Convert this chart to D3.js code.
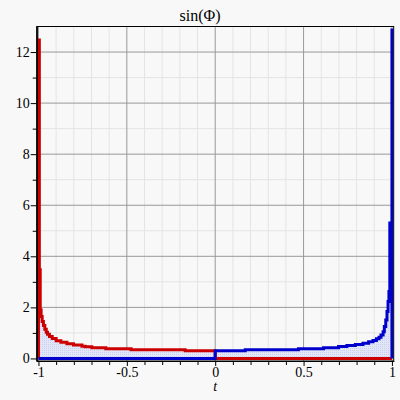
<!DOCTYPE html>
<html><head><meta charset="utf-8">
<script src="https://cdn.jsdelivr.net/npm/d3@7"></script>
<style>
html,body{margin:0;padding:0;background:#f8f8f8;}
svg{display:block;}
</style></head>
<body>
<svg id="c" width="400" height="400"></svg>
<script>
// ---- data ----
const titleText = "sin(\u03A6)";
const xLabel = "t";
const xMajorTicks = [-1, -0.5, 0, 0.5, 1];
const xTickLabels = ["-1", "-0.5", "0", "0.5", "1"];
const xMinorTicks = [-0.9,-0.8,-0.7,-0.6,-0.4,-0.3,-0.2,-0.1,0.1,0.2,0.3,0.4,0.6,0.7,0.8,0.9];
const yMajorTicks = [0, 2, 4, 6, 8, 10, 12];
const yTickLabels = ["0", "2", "4", "6", "8", "10", "12"];
const yMinorTicks = [1, 3, 5, 7, 9, 11];
// red series: [t, value] (step curve)
const redT = [-1, -1, -0.995, -0.990, -0.985, -0.979, -0.972, -0.964, -0.956, -0.949, -0.938, -0.922, -0.900, -0.873, -0.839, -0.802, -0.754, -0.736, -0.698, -0.619, -0.476, -0.17, 0, 1];
const redV = [0, 12.47, 3.47, 1.90, 1.64, 1.45, 1.29, 1.14, 1.03, 0.95, 0.86, 0.78, 0.69, 0.63, 0.58, 0.53, 0.48, 0.454, 0.415, 0.376, 0.337, 0.298, 0, 0];
// blue series
const blueT = [-1, 0, 0.17, 0.471, 0.613, 0.698, 0.745, 0.793, 0.836, 0.868, 0.893, 0.912, 0.927, 0.938, 0.950, 0.957, 0.965, 0.972, 0.978, 0.983, 0.988, 1, 1];
const blueV = [0, 0.298, 0.337, 0.376, 0.415, 0.466, 0.505, 0.544, 0.595, 0.65, 0.70, 0.77, 0.83, 0.92, 1.05, 1.25, 1.51, 1.84, 2.23, 2.62, 5.30, 12.92, 0];

const fillCap = 3.3;
const SERIF = "'Liberation Serif'";

const svg = d3.select("#c");
const x = d3.scaleLinear().domain([-1.01, 1.01]).range([36.7, 393.7]);
const y = d3.scaleLinear().domain([-0.1, 13]).range([361, 26.5]);
const [x0, x1] = x.range();
const [yb, yt] = y.range();

svg.append("rect").attr("width",400).attr("height",400).attr("fill","#f8f8f8");

const defs = svg.append("defs");
const pat = defs.append("pattern").attr("id","dots").attr("patternUnits","userSpaceOnUse").attr("width",2).attr("height",2);
pat.append("rect").attr("width",2).attr("height",2).attr("fill","#e3e6f6");
pat.append("rect").attr("width",1).attr("height",1).attr("fill","#c9cff0");
defs.append("clipPath").attr("id","clip").append("rect").attr("x",x0).attr("y",yt).attr("width",x1-x0).attr("height",yb-yt);

// grid
const g = svg.append("g");
g.selectAll(".xmin").data(xMinorTicks).join("line").attr("x1",d=>x(d)).attr("x2",d=>x(d)).attr("y1",yb).attr("y2",yt).attr("stroke","#e4e4e4").attr("stroke-width",1);
g.selectAll(".ymin").data(yMinorTicks).join("line").attr("class","ymin").attr("y1",d=>y(d)).attr("y2",d=>y(d)).attr("x1",x0).attr("x2",x1).attr("stroke","#e4e4e4").attr("stroke-width",1);
g.selectAll(".xmaj").data(xMajorTicks).join("line").attr("class","xmaj").attr("x1",d=>x(d)).attr("x2",d=>x(d)).attr("y1",yb).attr("y2",yt).attr("stroke","#999").attr("stroke-width",1);
g.selectAll(".ymaj").data(yMajorTicks.filter(d=>d>0)).join("line").attr("class","ymaj").attr("y1",d=>y(d)).attr("y2",d=>y(d)).attr("x1",x0).attr("x2",x1).attr("stroke","#999").attr("stroke-width",1);

const red = redT.map((t,i)=>[t, redV[i]]);
const blue = blueT.map((t,i)=>[t, blueV[i]]);
const fillData = red.filter(d=>d[0]<0).slice(1).concat(blue.filter(d=>d[0]>=0 && !(d[0]===1 && d[1]===0)))
  .map(d=>[d[0], Math.min(d[1], fillCap)]);
fillData.push([1, 0]);

const plot = svg.append("g").attr("clip-path","url(#clip)");
plot.append("path").datum(fillData)
  .attr("d", d3.area().x(d=>x(d[0])).y0(y(0)).y1(d=>y(d[1])).curve(d3.curveStepAfter))
  .attr("fill","url(#dots)");

const line = d3.line().x(d=>x(d[0])).y(d=>y(d[1])).curve(d3.curveStepAfter);
plot.append("path").datum(red).attr("d",line).attr("fill","none").attr("stroke","#cc0000").attr("stroke-width",3);
plot.append("path").datum(blue).attr("d",line).attr("fill","none").attr("stroke","#0000cc").attr("stroke-width",3);

svg.append("rect").attr("x",x0).attr("y",yt).attr("width",x1-x0).attr("height",yb-yt).attr("fill","none").attr("stroke","#000").attr("stroke-width",1);

// axes
const ax = svg.append("g").attr("transform",`translate(0,${yb})`)
  .call(d3.axisBottom(x).tickValues(xMajorTicks).tickFormat((d,i)=>xTickLabels[i]).tickSize(5).tickSizeOuter(0).tickPadding(1));
const axm = svg.append("g").attr("transform",`translate(0,${yb})`)
  .call(d3.axisBottom(x).tickValues(xMinorTicks).tickFormat("").tickSize(4).tickSizeOuter(0));
const ay = svg.append("g").attr("transform",`translate(${x0},0)`)
  .call(d3.axisLeft(y).tickValues(yMajorTicks).tickFormat((d,i)=>yTickLabels[i]).tickSize(6).tickSizeOuter(0).tickPadding(1));
const aym = svg.append("g").attr("transform",`translate(${x0},0)`)
  .call(d3.axisLeft(y).tickValues(yMinorTicks).tickFormat("").tickSize(4).tickSizeOuter(0));
[ax,axm,ay,aym].forEach(a=>{
  a.attr("font-family", SERIF).attr("font-size", 14);
  a.select(".domain").attr("stroke","#000");
  a.selectAll(".tick line").attr("stroke","#000");
  a.selectAll("text").style("font-family",SERIF).style("font-size","14px").attr("fill","#000");
});

svg.append("text").attr("x",200).attr("y",21).attr("text-anchor","middle")
  .style("font-family",SERIF).style("font-size","16px").attr("fill","#000").text(titleText);
svg.append("text").attr("x",x(0)).attr("y",391).attr("text-anchor","middle")
  .style("font-family",SERIF).style("font-size","14px").style("font-style","italic").attr("fill","#000").text(xLabel);
</script>
</body></html>
